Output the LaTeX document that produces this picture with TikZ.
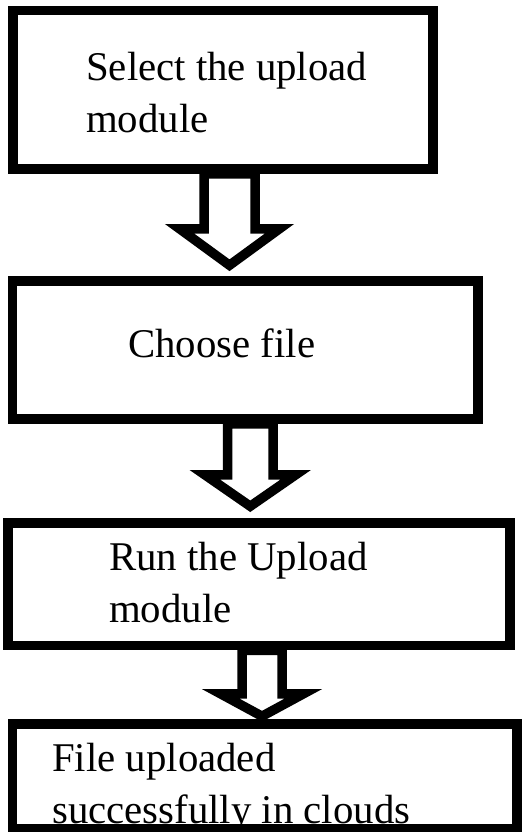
\documentclass[tikz,border=0pt]{standalone}
\usepackage{fontspec}
\setmainfont{Liberation Serif}
\usetikzlibrary{calc}

\begin{document}
\begin{tikzpicture}[
    x=1pt, y=-1pt,
    stepbox/.style={
      draw,
      line width=9.5pt,
      inner sep=0pt
    },
    steptext/.style={
      anchor=base west,
      inner sep=0pt,
      align=left,
      font=\fontsize{40.8}{52}\selectfont
    },
    blockarrow/.style={
      draw,
      fill=white,
      line width=9.5pt,
      line join=miter
    },
  ]
  \useasboundingbox (0,0) rectangle (531,832);

  % the four steps
  \node[stepbox, minimum width=420.3, minimum height=158.5] (select) at (222.9,89.75) {};
  \node[stepbox, minimum width=465.3, minimum height=138] (choose) at (245.3,350) {};
  \node[stepbox, minimum width=502, minimum height=122.5] (run) at (259,584.25) {};

  % base of a two-line text is its last line
  \node[steptext] (selecttext) at (86,132) {Select the upload\\module};
  \node[steptext] (choosetext) at (128,357) {Choose file};
  \node[steptext] (runtext) at (109,622) {Run the Upload\\module};
  \node[steptext] (donetext) at (52,823) {File uploaded\\successfully in clouds};

  \node[stepbox, minimum width=504.5, minimum height=105] (done) at (264.75,776.5) {};

  % hollow block arrows between the steps
  \foreach \from/\to/\ax/\sh/\hh/\sl/\gap in {
      select/choose/229.5/25.5/50/55/11,
      choose/run/250.25/22.75/45.5/51/12,
      run/done/262/20/41.5/43.5/3}
  {
    \coordinate (ax) at (\ax,0);
    \draw[blockarrow] ($(\from.south -| ax)+(-\sh,0)$) -- ++(0,\sl) -- ++(\sh-\hh,0)
      -- ($(\to.north -| ax)+(0,-\gap)$)
      -- ($(\from.south -| ax)+(\hh,\sl)$) -- ++(\sh-\hh,0)
      -- ($(\from.south -| ax)+(\sh,0)$) -- cycle;
  }
\end{tikzpicture}
\end{document}
